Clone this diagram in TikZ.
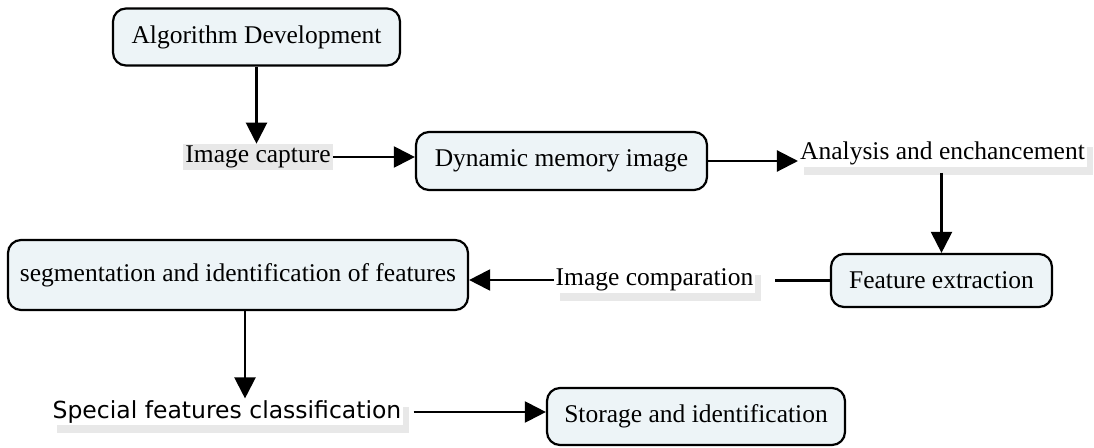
\documentclass[tikz,border=0pt]{standalone}
\usepackage{fontspec}
\setmainfont{Liberation Serif}
\newfontfamily\labelsans{DejaVu Sans}
\usetikzlibrary{arrows.meta,shadows}
\definecolor{boxfill}{RGB}{237,244,247}
\definecolor{shadowgray}{RGB}{232,232,232}
\begin{document}
\begin{tikzpicture}[x=1pt,y=-1pt,
  stepbox/.style={draw=black, line width=2.2pt, rounded corners=13pt, fill=boxfill,
    font=\fontsize{25.5}{30}\selectfont, inner sep=0pt},
  plainlabel/.style={font=\fontsize{25.5}{30}\selectfont, inner sep=2pt},
  shadowlabel/.style={plainlabel, fill=white,
    drop shadow={shadow xshift=6pt, shadow yshift=-8pt, fill=shadowgray, opacity=1}},
  link/.style={line width=2.2pt},
  flow/.style={link, -{Triangle[length=21pt,width=21pt]}}]
\useasboundingbox (0,0) rectangle (1094,447);

% boxes and labels
\node[stepbox, minimum width=287pt, minimum height=57pt] (alg) at (256.5,37) {Algorithm Development};
\node[plainlabel, fill=shadowgray, minimum width=148pt, minimum height=25pt] (cap) at (258,157) {Image capture};
\node[stepbox, minimum width=291pt, minimum height=58pt] (dyn) at (561.5,161) {Dynamic memory image};
\node[shadowlabel] (ana) at (942.5,153) {Analysis and enchancement};
\node[stepbox, minimum width=221pt, minimum height=53pt] (fe) at (941.5,280.5) {Feature extraction};
\node[shadowlabel] (cmp) at (654.5,280) {Image comparation};
\node[stepbox, minimum width=460pt, minimum height=70pt] (seg) at (238,275) {segmentation and identification of features};
\node[shadowlabel, font=\labelsans\fontsize{23.5}{28}\selectfont] (spc) at (227,412) {Special features classification};
\node[stepbox, minimum width=298pt, minimum height=57pt] (sto) at (696,416.5) {Storage and identification};

% connectors
\draw[flow] (alg.south) -- (alg.south |- cap.north);
\draw[flow] (cap.east) -- (cap.east -| dyn.west);
\draw[flow] (dyn.east) -- (dyn.east -| ana.west);
\draw[flow] ([yshift=-6pt]ana.south -| fe.north) -- (fe.north);
\draw[link, shorten >=20pt] (fe.west) -- (fe.west -| cmp.east);
\draw[flow] (cmp.west) -- (cmp.west -| seg.east);
\draw[flow] ([xshift=7pt]seg.south) -- ([xshift=7pt]seg.south |- spc.north);
\draw[flow] ([xshift=10pt]spc.east) -- (spc.east -| sto.west);
\end{tikzpicture}
\end{document}
